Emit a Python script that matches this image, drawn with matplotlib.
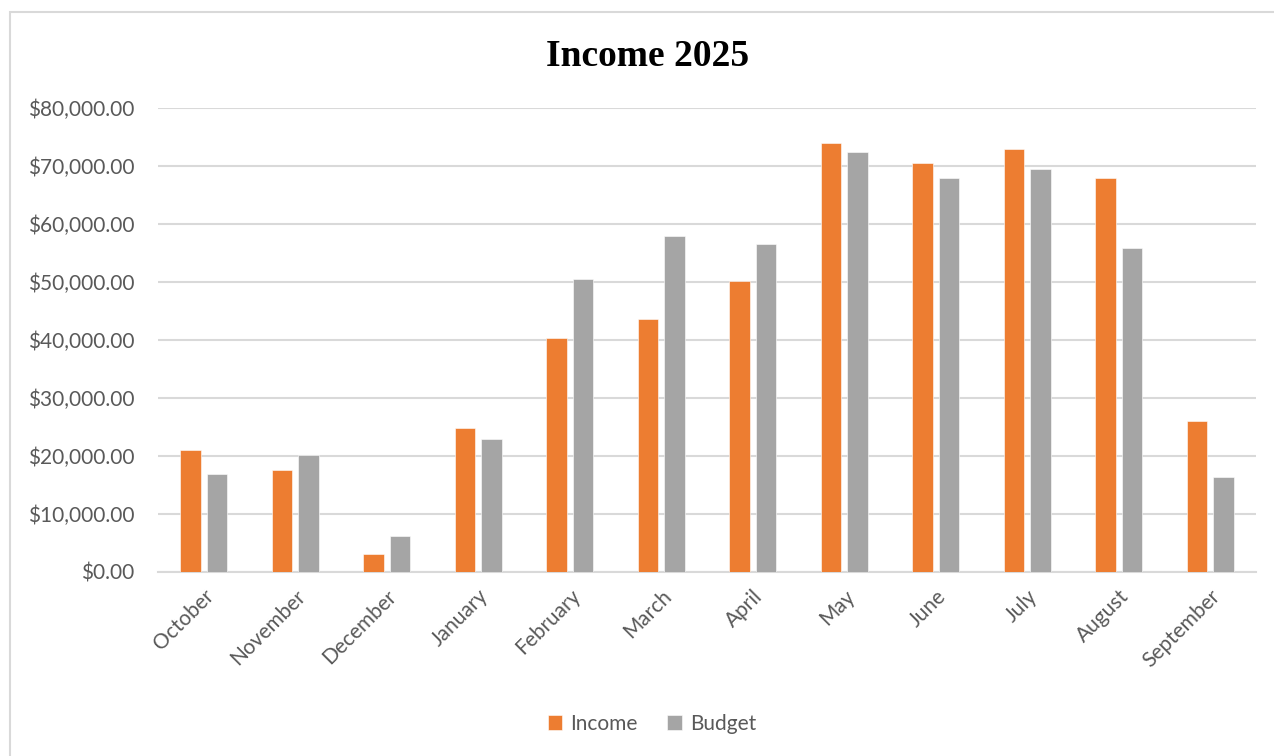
import numpy as np
import matplotlib
matplotlib.use("Agg")
import matplotlib.pyplot as plt
from matplotlib.patches import Rectangle
from matplotlib.ticker import FuncFormatter

## data
months = ["October", "November", "December", "January", "February", "March",
          "April", "May", "June", "July", "August", "September"]
income = [21050, 17600, 3100, 24900, 40300, 43700, 50200, 73900, 70500, 73000, 67900, 26000]
budget = [16900, 20200, 6200, 22900, 50500, 57900, 56600, 72400, 68000, 69400, 55800, 16400]

orange = "#ED7D31"
gray = "#A5A5A5"
textColor = "#595959"

plt.rcParams['font.family'] = ['Lato', 'DejaVu Sans']

fig = plt.figure(figsize=(12.74, 7.56), dpi=100)
W, H = 1274.0, 756.0
# plot area in pixels: left 158, right 1256, top 108, bottom 572
ax = fig.add_axes([158 / W, 1 - 572 / H, (1256 - 158) / W, (572 - 108) / H])

# outer chart border
fig.patches.append(Rectangle((10 / W, -0.1), 1.2, 1 - 12 / H + 0.1, transform=fig.transFigure,
                             fill=False, edgecolor="#D9D9D9", linewidth=1.5))

x = np.arange(len(months))
barW = 0.22
off = 0.145
ax.bar(x - off, income, barW, color=orange, edgecolor="white", linewidth=0.4, label="Income", zorder=3)
ax.bar(x + off, budget, barW, color=gray, edgecolor="white", linewidth=0.4, label="Budget", zorder=3)

ax.set_xlim(-0.5, len(months) - 0.5)
ax.set_ylim(0, 80000)
ax.set_yticks(np.arange(0, 80001, 10000))
ax.yaxis.set_major_formatter(FuncFormatter(lambda v, p: "${:,.2f}".format(v)))
ax.grid(axis="y", color="#D9D9D9", linewidth=1.5, zorder=0)
ax.set_axisbelow(True)

for s in ["top", "right", "left"]:
  ax.spines[s].set_visible(False)
ax.spines["bottom"].set_color("#D9D9D9")
ax.spines["bottom"].set_linewidth(1.5)

ax.tick_params(axis="both", length=0, labelsize=15, colors=textColor)
ax.tick_params(axis="y", pad=17)
ax.tick_params(axis="x", pad=10)
ax.set_xticks(x)
ax.set_xticklabels(months, rotation=45, ha="right", rotation_mode="anchor")

fig.text(648 / W, 1 - 56 / H, "Income 2025", ha="center", va="center",
         fontsize=27, fontweight="bold", family="Liberation Serif", color="black")

leg = fig.legend(loc="center", bbox_to_anchor=(652 / W, 1 - 724 / H), ncol=2, frameon=False,
                 fontsize=15, handlelength=0.7, handleheight=0.7, handletextpad=0.4,
                 columnspacing=1.4)
for t in leg.get_texts():
  t.set_color(textColor)

plt.savefig("out.png", dpi=100)
